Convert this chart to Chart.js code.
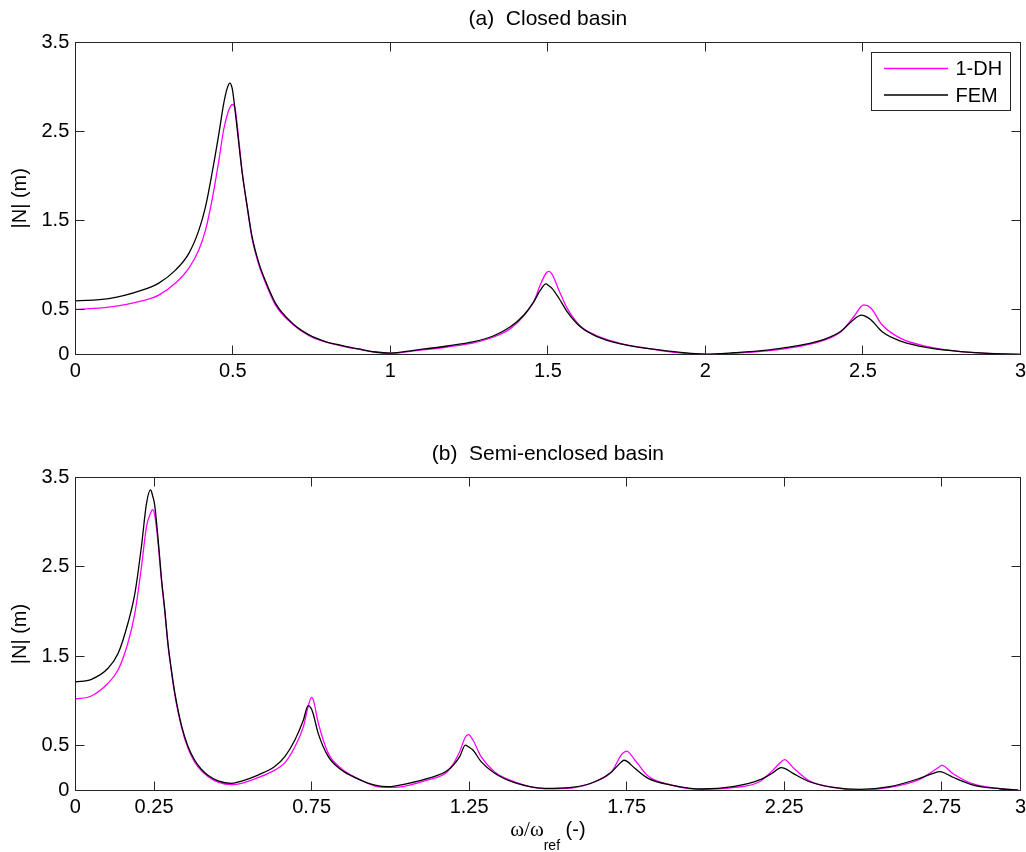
<!DOCTYPE html>
<html>
<head>
<meta charset="utf-8">
<script src="https://cdn.jsdelivr.net/npm/chart.js@4.4.1/dist/chart.umd.min.js"></script>
<style>
  html, body { margin: 0; padding: 0; background: #fff; }
  #wrap { position: relative; width: 1026px; height: 852px; }
  canvas { position: absolute; left: 0; }
  #chartA { top: 0; }
  #chartB { top: 420px; }
</style>
</head>
<body>
<div id="wrap">
  <canvas id="chartA" width="1026" height="420"></canvas>
  <canvas id="chartB" width="1026" height="432"></canvas>
</div>
<script>
/* response spectra: 1-DH model vs FEM, closed and semi-enclosed basin */

// (a) closed basin
const omegaA = [0, 0.106, 0.212, 0.265, 0.318, 0.36, 0.392, 0.413, 0.434, 0.456, 0.471, 0.482, 0.49, 0.498, 0.506,
  0.519, 0.53, 0.546, 0.561, 0.583, 0.604, 0.636, 0.689, 0.742, 0.794, 0.847, 0.9, 0.953, 1.0, 1.074,
  1.18, 1.265, 1.328, 1.381, 1.423, 1.455, 1.476, 1.494, 1.503, 1.513, 1.535, 1.561, 1.603, 1.656, 1.73,
  1.815, 1.9, 1.968, 2.0, 2.09, 2.196, 2.303, 2.377, 2.43, 2.47, 2.495, 2.503, 2.525, 2.561, 2.62,
  2.705, 2.81, 2.916, 3.0];
const femA = [0.60, 0.625, 0.72, 0.80, 0.945, 1.13, 1.39, 1.65, 2.03, 2.48, 2.81, 2.98, 3.04, 2.98, 2.77,
  2.36, 2.03, 1.65, 1.32, 1.02, 0.82, 0.57, 0.35, 0.22, 0.145, 0.10, 0.062, 0.028, 0.015, 0.047,
  0.095, 0.144, 0.21, 0.31, 0.44, 0.59, 0.72, 0.79, 0.77, 0.74, 0.63, 0.48, 0.31, 0.20, 0.118,
  0.069, 0.032, 0.009, 0.004, 0.02, 0.05, 0.106, 0.17, 0.26, 0.39, 0.44, 0.435, 0.39, 0.255, 0.15,
  0.076, 0.032, 0.009, 0.002];
const dhA = [0.505, 0.53, 0.60, 0.665, 0.80, 0.965, 1.17, 1.39, 1.73, 2.18, 2.52, 2.68, 2.76, 2.80, 2.77,
  2.40, 2.03, 1.64, 1.30, 1.00, 0.80, 0.55, 0.34, 0.21, 0.14, 0.095, 0.058, 0.025, 0.012, 0.04,
  0.084, 0.13, 0.196, 0.29, 0.43, 0.59, 0.78, 0.91, 0.93, 0.90, 0.72, 0.52, 0.32, 0.21, 0.125,
  0.069, 0.024, 0.004, 0.002, 0.013, 0.04, 0.095, 0.16, 0.255, 0.42, 0.54, 0.555, 0.52, 0.33, 0.18,
  0.088, 0.032, 0.009, 0.002];

// (b) semi-enclosed basin
const omegaB = [0, 0.051, 0.104, 0.136, 0.167, 0.189, 0.21, 0.226, 0.239, 0.245, 0.252, 0.263, 0.273, 0.284, 0.294,
  0.305, 0.316, 0.337, 0.358, 0.379, 0.40, 0.422, 0.453, 0.496, 0.528, 0.58, 0.633, 0.665, 0.697, 0.724,
  0.739, 0.75, 0.755, 0.771, 0.803, 0.845, 0.898, 0.951, 0.994, 1.013, 1.119, 1.183, 1.22, 1.238, 1.248,
  1.262, 1.288, 1.331, 1.394, 1.49, 1.575, 1.649, 1.702, 1.733, 1.742, 1.75, 1.776, 1.818, 1.892, 1.988,
  2.087, 2.172, 2.214, 2.24, 2.251, 2.278, 2.33, 2.405, 2.49, 2.585, 2.68, 2.723, 2.744, 2.75, 2.786,
  2.85, 2.935, 2.993];
const femB = [1.214, 1.244, 1.367, 1.534, 1.87, 2.20, 2.73, 3.21, 3.36, 3.30, 3.19, 2.80, 2.39, 2.02, 1.65,
  1.35, 1.09, 0.73, 0.49, 0.34, 0.24, 0.17, 0.11, 0.082, 0.108, 0.175, 0.27, 0.38, 0.566, 0.79,
  0.95, 0.91, 0.86, 0.64, 0.38, 0.23, 0.13, 0.063, 0.045, 0.052, 0.138, 0.23, 0.38, 0.51, 0.49,
  0.454, 0.324, 0.194, 0.089, 0.026, 0.037, 0.10, 0.21, 0.32, 0.34, 0.33, 0.25, 0.138, 0.063, 0.019,
  0.045, 0.12, 0.20, 0.257, 0.25, 0.194, 0.10, 0.037, 0.015, 0.045, 0.138, 0.194, 0.212, 0.21, 0.15,
  0.063, 0.022, 0.007];
const dhB = [1.024, 1.058, 1.20, 1.35, 1.65, 1.98, 2.50, 2.95, 3.10, 3.14, 3.08, 2.76, 2.36, 2.00, 1.63,
  1.33, 1.07, 0.71, 0.47, 0.32, 0.225, 0.156, 0.095, 0.067, 0.082, 0.145, 0.23, 0.31, 0.49, 0.715,
  0.94, 1.043, 1.02, 0.76, 0.417, 0.246, 0.134, 0.052, 0.037, 0.037, 0.12, 0.22, 0.436, 0.60, 0.626,
  0.566, 0.38, 0.21, 0.10, 0.022, 0.03, 0.10, 0.21, 0.40, 0.43, 0.443, 0.343, 0.164, 0.063, 0.015,
  0.034, 0.10, 0.23, 0.32, 0.346, 0.26, 0.11, 0.037, 0.007, 0.037, 0.127, 0.22, 0.27, 0.283, 0.19,
  0.075, 0.022, 0.007];

const xTicksA = [0, 0.5, 1, 1.5, 2, 2.5, 3];
const xTicksB = [0, 0.25, 0.75, 1.25, 1.75, 2.25, 2.75, 3];
const yTicks = [0, 0.5, 1.5, 2.5, 3.5];

const COLORS = {
  dh:   "#ff00ff",
  fem:  "#000000",
  axis: "#262626",
  text: "#000000",
};

const SANS = "Arial, 'Liberation Sans', sans-serif";
Chart.defaults.font.family = SANS;
Chart.defaults.font.size = 20;
Chart.defaults.color = COLORS.text;

const px = (v) => Math.floor(v) + 0.5;

// axes box with inward ticks on all four sides
const boxTicks = {
  id: "boxTicks",
  afterDatasetsDraw(chart) {
    const { ctx, chartArea: a, scales: { x, y } } = chart;
    const L = px(a.left), R = px(a.right), T = px(a.top), B = px(a.bottom);
    const len = 9;
    ctx.save();
    ctx.strokeStyle = COLORS.axis;
    ctx.lineWidth = 1;
    ctx.beginPath();
    x.ticks.forEach((t) => {
      const xp = px(x.getPixelForValue(t.value));
      ctx.moveTo(xp, B); ctx.lineTo(xp, B - len);
      ctx.moveTo(xp, T); ctx.lineTo(xp, T + len);
    });
    y.ticks.forEach((t) => {
      const yp = px(y.getPixelForValue(t.value));
      ctx.moveTo(L, yp); ctx.lineTo(L + len, yp);
      ctx.moveTo(R, yp); ctx.lineTo(R - len, yp);
    });
    ctx.stroke();
    ctx.strokeRect(L, T, R - L, B - T);
    ctx.restore();
  },
};

// panel title centred over the axes box
const panelTitle = {
  id: "panelTitle",
  afterDraw(chart, args, opts) {
    const { ctx, chartArea: a } = chart;
    ctx.save();
    ctx.font = "21px " + SANS;
    ctx.fillStyle = COLORS.text;
    ctx.textAlign = "center";
    ctx.textBaseline = "middle";
    ctx.fillText(opts.text, (a.left + a.right) / 2, a.top - opts.gap);
    ctx.restore();
  },
};

// boxed legend in the upper right corner
const boxLegend = {
  id: "boxLegend",
  afterDraw(chart, args, opts) {
    if (!opts.show) return;
    const { ctx, chartArea: a } = chart;
    const w = 139, h = 58;
    const bx = px(a.right - 10 - w), by = px(a.top + 10);
    ctx.save();
    ctx.fillStyle = "#fff";
    ctx.fillRect(bx, by, w, h);
    ctx.strokeStyle = COLORS.axis;
    ctx.lineWidth = 1;
    ctx.strokeRect(bx, by, w, h);
    ctx.font = "20px " + SANS;
    ctx.textBaseline = "middle";
    chart.data.datasets.forEach((ds, i) => {
      const yy = by + 16 + i * 26.5;
      ctx.strokeStyle = ds.borderColor;
      ctx.lineWidth = 1.3;
      ctx.beginPath();
      ctx.moveTo(bx + 12.5, yy);
      ctx.lineTo(bx + 76.5, yy);
      ctx.stroke();
      ctx.fillStyle = COLORS.text;
      ctx.fillText(ds.label, bx + 84, yy + 1);
    });
    ctx.restore();
  },
};

// x axis label with subscript: ω/ω_ref (-)
const omegaLabel = {
  id: "omegaLabel",
  afterDraw(chart, args, opts) {
    if (!opts.show) return;
    const { ctx, chartArea: a } = chart;
    const parts = [
      { t: "ω/ω", font: "21px 'Liberation Serif', 'Times New Roman', serif", dy: 0 },
      { t: "ref", font: "14px " + SANS, dy: 14 },
      { t: " (-)", font: "20px " + SANS, dy: 0 },
    ];
    ctx.save();
    let total = 0;
    parts.forEach((p) => { ctx.font = p.font; p.w = ctx.measureText(p.t).width; total += p.w; });
    let xx = (a.left + a.right) / 2 - total / 2;
    const base = opts.baseline;
    ctx.fillStyle = COLORS.text;
    ctx.textBaseline = "alphabetic";
    parts.forEach((p) => {
      ctx.font = p.font;
      ctx.fillText(p.t, xx, base + p.dy);
      xx += p.w;
    });
    ctx.restore();
  },
};

function makePanel(canvasId, cfg) {
  const ctx = document.getElementById(canvasId);
  if (!ctx) return;
  const pts = (xs, ys) => xs.map((x, i) => ({ x, y: ys[i] }));
  return new Chart(ctx, {
    type: "line",
    data: {
      datasets: [
        { label: "1-DH", data: pts(cfg.omega, cfg.dh), borderColor: COLORS.dh, order: 1 },
        { label: "FEM", data: pts(cfg.omega, cfg.fem), borderColor: COLORS.fem, order: 0 },
      ],
    },
    options: {
      responsive: false,
      animation: false,
      events: [],
      layout: { padding: { left: 0, right: 5.5, top: cfg.top, bottom: 0 } },
      elements: {
        point: { radius: 0 },
        line: { borderWidth: 1.3, cubicInterpolationMode: "monotone", fill: false },
      },
      plugins: {
        legend: { display: false },
        tooltip: { enabled: false },
        title: { display: false },
        panelTitle: { text: cfg.title, gap: cfg.titleGap },
        boxLegend: { show: cfg.legend },
        omegaLabel: { show: cfg.xLabel, baseline: 416 },
      },
      scales: {
        x: {
          type: "linear",
          min: 0,
          max: 3,
          afterBuildTicks: (s) => { s.ticks = cfg.xTicks.map((v) => ({ value: v })); },
          afterFit: (s) => { s.height = cfg.xHeight; s.paddingLeft = 0; s.paddingRight = 0; },
          grid: { display: false, drawTicks: false },
          border: { display: false },
          ticks: { padding: 5, maxRotation: 0, autoSkip: false, callback: (v) => String(v) },
        },
        y: {
          type: "linear",
          min: 0,
          max: 3.5,
          afterBuildTicks: (s) => { s.ticks = yTicks.map((v) => ({ value: v })); },
          afterFit: (s) => { s.width = 75.3; s.paddingTop = 0; s.paddingBottom = 0; },
          grid: { display: false, drawTicks: false },
          border: { display: false },
          ticks: { padding: 6, autoSkip: false, callback: (v) => String(v) },
          title: { display: true, text: "|N| (m)", font: { size: 20 }, padding: { top: 8, bottom: 0 } },
        },
      },
    },
    plugins: [boxTicks, panelTitle, boxLegend, omegaLabel],
  });
}

makePanel("chartA", {
  omega: omegaA, fem: femA, dh: dhA, xTicks: xTicksA,
  title: "(a)  Closed basin", top: 42, titleGap: 23,
  xHeight: 65.5, legend: true, xLabel: false,
});

makePanel("chartB", {
  omega: omegaB, fem: femB, dh: dhB, xTicks: xTicksB,
  title: "(b)  Semi-enclosed basin", top: 57.3, titleGap: 23,
  xHeight: 61.3, legend: false, xLabel: true,
});
</script>
</body>
</html>
